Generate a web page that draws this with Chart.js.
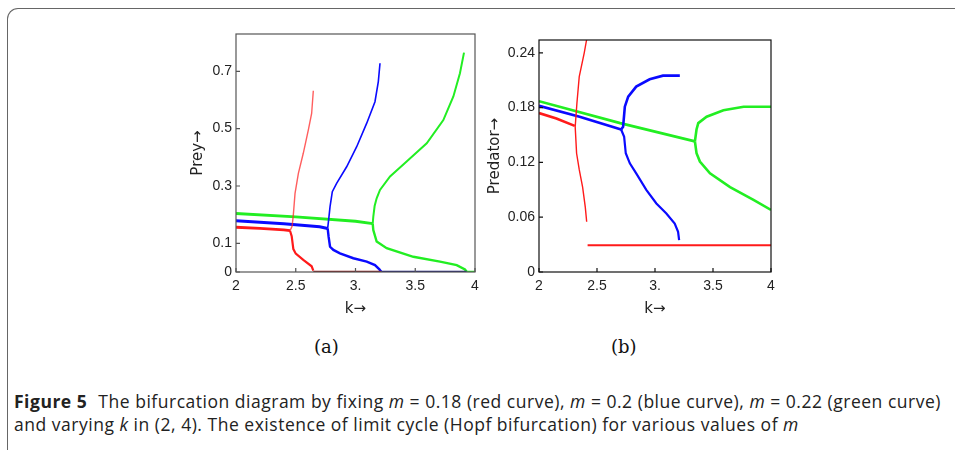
<!DOCTYPE html>
<html>
<head>
<meta charset="utf-8">
<script src="https://cdn.jsdelivr.net/npm/chart.js@4.4.1/dist/chart.umd.min.js"></script>
<style>
  body { margin: 0; background: #fff; width: 955px; height: 450px; overflow: hidden; position: relative; }
  #frame { position: absolute; left: 7px; top: 8px; width: 1000px; height: 500px;
           border-left: 1.5px solid #666; border-top: 1.5px solid #666; border-top-left-radius: 11px; }
  .box { position: absolute; }
  .sub { position: absolute; top: 336px; font-family: "DejaVu Serif", "Liberation Serif", serif; font-size: 18px; color: #111; }
  #caption { position: absolute; left: 14px; top: 390px; font-family: "Open Sans", sans-serif;
             font-size: 17.5px; line-height: 23px; color: #222; white-space: nowrap; }
  #caption b { font-weight: 700; margin-right: 6px; }
</style>
</head>
<body>
<div id="frame"></div>
<div class="box" style="left:180px; top:20px; width:310px; height:300px;"><canvas id="chartA"></canvas></div>
<div class="box" style="left:480px; top:20px; width:310px; height:300px;"><canvas id="chartB"></canvas></div>
<div class="sub" style="left:314px;">(a)</div>
<div class="sub" style="left:611px;">(b)</div>
<div id="caption"><span id="cap1"><b>Figure 5</b> The bifurcation diagram by fixing <i>m</i> = 0.18 (red curve), <i>m</i> = 0.2 (blue curve), <i>m</i> = 0.22 (green curve)</span><br><span id="cap2">and varying <i>k</i> in (2, 4). The existence of limit cycle (Hopf bifurcation) for various values of <i>m</i></span></div>
<script>
// ---- panel (a): prey vs k ----
const xTicks = [2, 2.5, 3, 3.5, 4];
const xTickLabels = ['2', '2.5', '3.', '3.5', '4'];
const preyTicks = [0, 0.1, 0.3, 0.5, 0.7];
const predTicks = [0, 0.06, 0.12, 0.18, 0.24];

const redA_stableK = [2, 2.2, 2.4, 2.452];
const redA_stableY = [0.156, 0.152, 0.147, 0.144];
const redA_upK = [2.452, 2.47, 2.48, 2.494, 2.522, 2.563, 2.605, 2.633, 2.647];
const redA_upY = [0.144, 0.16, 0.2, 0.274, 0.344, 0.414, 0.495, 0.553, 0.632];
const redA_lowK = [2.452, 2.466, 2.48, 2.5, 2.563, 2.633, 2.647];
const redA_lowY = [0.144, 0.125, 0.08, 0.064, 0.042, 0.02, 0.005];

const blueA_stableK = [2, 2.4, 2.7, 2.767];
const blueA_stableY = [0.179, 0.168, 0.158, 0.152];
const blueA_upK = [2.767, 2.775, 2.787, 2.806, 2.842, 2.926, 3.01, 3.094, 3.163, 3.191, 3.205];
const blueA_upY = [0.152, 0.181, 0.228, 0.28, 0.309, 0.367, 0.437, 0.519, 0.594, 0.664, 0.728];
const blueA_lowK = [2.767, 2.775, 2.787, 2.815, 2.87, 2.982, 3.094, 3.163, 3.2, 3.215];
const blueA_lowY = [0.152, 0.123, 0.088, 0.077, 0.065, 0.048, 0.036, 0.024, 0.009, 0.001];

const greenA_stableK = [2, 2.5, 3, 3.144];
const greenA_stableY = [0.204, 0.192, 0.177, 0.169];
const greenA_upK = [3.144, 3.149, 3.16, 3.177, 3.205, 3.289, 3.428, 3.596, 3.735, 3.819, 3.874, 3.908];
const greenA_upY = [0.169, 0.193, 0.23, 0.257, 0.286, 0.333, 0.385, 0.449, 0.53, 0.612, 0.693, 0.765];
const greenA_lowK = [3.144, 3.149, 3.177, 3.261, 3.484, 3.707, 3.847, 3.916, 3.93];
const greenA_lowY = [0.169, 0.146, 0.106, 0.083, 0.053, 0.036, 0.024, 0.009, 0.001];

const zeroRedK = [2.647, 3.215];
const zeroBlueK = [3.215, 3.93];
const zeroGreenK = [3.93, 4];

// ---- panel (b): predator vs k ----
const redB_stableK = [2, 2.15, 2.308];
const redB_stableY = [0.174, 0.168, 0.16];
const redB_cycK = [2.41, 2.39, 2.347, 2.327, 2.312, 2.324, 2.347, 2.376, 2.399, 2.411];
const redB_cycY = [0.254, 0.24, 0.214, 0.185, 0.159, 0.13, 0.112, 0.093, 0.071, 0.055];
const redB_lowK = [2.419, 4];
const redB_lowY = [0.0293, 0.0293];

const blueB_stableK = [2, 2.35, 2.708];
const blueB_stableY = [0.182, 0.17, 0.156];
const blueB_upK = [2.708, 2.725, 2.74, 2.769, 2.838, 2.954, 3.069, 3.214];
const blueB_upY = [0.156, 0.159, 0.181, 0.192, 0.203, 0.211, 0.215, 0.215];
const blueB_lowK = [2.708, 2.734, 2.748, 2.783, 2.838, 2.925, 3.012, 3.098, 3.17, 3.199, 3.208];
const blueB_lowY = [0.156, 0.148, 0.13, 0.119, 0.108, 0.09, 0.075, 0.064, 0.053, 0.044, 0.035];

const greenB_stableK = [2, 2.7, 3.344];
const greenB_stableY = [0.187, 0.163, 0.143];
const greenB_upK = [3.344, 3.358, 3.373, 3.445, 3.59, 3.764, 4];
const greenB_upY = [0.143, 0.156, 0.163, 0.17, 0.177, 0.181, 0.181];
const greenB_lowK = [3.344, 3.358, 3.387, 3.474, 3.647, 3.849, 4];
const greenB_lowY = [0.143, 0.13, 0.121, 0.108, 0.093, 0.079, 0.068];

const RED = '#ff1a1a', BLUE = '#0a0aff', GREEN = '#22ee22';
const FONT = "'Liberation Sans', Arial, sans-serif";
const TITLE_FONT = "'DejaVu Sans', 'Liberation Sans', sans-serif";

function pts(ks, ys) {
  return ks.map((k, i) => ({ x: k, y: Array.isArray(ys) ? ys[i] : ys }));
}
function series(ks, ys, color, width) {
  return { data: pts(ks, ys), borderColor: color, borderWidth: width, showLine: true,
           pointRadius: 0, tension: 0, fill: false };
}

const frameTicks = {
  id: 'frameTicks',
  afterDatasetsDraw(chart, args, opts) {
    const { ctx, chartArea: a, scales } = chart;
    ctx.save();
    ctx.strokeStyle = opts.color;
    ctx.lineWidth = 1.2;
    ctx.strokeRect(a.left, a.top, a.right - a.left, a.bottom - a.top);
    ctx.beginPath();
    scales.x.ticks.forEach(t => {
      const px = scales.x.getPixelForValue(t.value);
      ctx.moveTo(px, a.bottom); ctx.lineTo(px, a.bottom - 4);
    });
    scales.y.ticks.forEach(t => {
      const py = scales.y.getPixelForValue(t.value);
      ctx.moveTo(a.left, py); ctx.lineTo(a.left + 4, py);
    });
    ctx.stroke();
    ctx.restore();
  }
};

function makeChart(id, datasets, yMax, yTicks, yTitle, yWidth, titlePad, pad, frameColor) {
  return new Chart(document.getElementById(id), {
    type: 'scatter',
    data: { datasets: datasets },
    options: {
      animation: false,
      responsive: true,
      maintainAspectRatio: false,
      layout: { padding: pad },
      plugins: { legend: { display: false }, tooltip: { enabled: false }, frameTicks: { color: frameColor } },
      scales: {
        x: {
          type: 'linear', min: 2, max: 4,
          afterBuildTicks: s => { s.ticks = xTicks.map(v => ({ value: v })); },
          afterFit: s => { s.height = 48; },
          grid: { display: false, drawTicks: false },
          border: { display: false },
          ticks: { padding: 6, color: '#222', font: { family: FONT, size: 14 },
                   callback: v => xTickLabels[xTicks.indexOf(v)] },
          title: { display: true, text: 'k\u2192', color: '#222', padding: { top: 0, bottom: 2 },
                   font: { family: TITLE_FONT, size: 15 } }
        },
        y: {
          type: 'linear', min: 0, max: yMax,
          afterBuildTicks: s => { s.ticks = yTicks.map(v => ({ value: v })); },
          afterFit: s => { s.width = yWidth; },
          grid: { display: false, drawTicks: false },
          border: { display: false },
          ticks: { padding: 4, color: '#222', font: { family: FONT, size: 14 },
                   callback: v => String(v) },
          title: { display: true, text: yTitle, color: '#222', padding: { top: titlePad, bottom: 0 },
                   font: { family: TITLE_FONT, size: 15 } }
        }
      }
    },
    plugins: [frameTicks]
  });
}

makeChart('chartA', [
  series(zeroRedK, 0, '#8a1a1a', 2.5),
  series(zeroBlueK, 0, '#1a1a7a', 2.5),
  series(zeroGreenK, 0, GREEN, 2.5),
  series(redA_upK, redA_upY, 'rgba(255,40,40,0.75)', 1.4),
  series(redA_lowK, redA_lowY, RED, 2.2),
  series(redA_stableK, redA_stableY, RED, 2.8),
  series(blueA_upK, blueA_upY, BLUE, 1.6),
  series(blueA_lowK, blueA_lowY, BLUE, 2.4),
  series(blueA_stableK, blueA_stableY, BLUE, 3),
  series(greenA_upK, greenA_upY, GREEN, 2),
  series(greenA_lowK, greenA_lowY, GREEN, 2.4),
  series(greenA_stableK, greenA_stableY, GREEN, 2.8)
], 0.83, preyTicks, 'Prey\u2192', 56, 9, { top: 14, right: 15, left: 0, bottom: 0 }, '#555');

makeChart('chartB', [
  series(redB_lowK, redB_lowY, RED, 1.8),
  series(redB_cycK, redB_cycY, RED, 1.4),
  series(redB_stableK, redB_stableY, RED, 2.6),
  series(blueB_upK, blueB_upY, BLUE, 2.6),
  series(blueB_lowK, blueB_lowY, BLUE, 2.2),
  series(blueB_stableK, blueB_stableY, BLUE, 2.8),
  series(greenB_upK, greenB_upY, GREEN, 2.6),
  series(greenB_lowK, greenB_lowY, GREEN, 2.6),
  series(greenB_stableK, greenB_stableY, GREEN, 2.6)
], 0.254, predTicks, 'Predator\u2192', 59, 6, { top: 20, right: 19, left: 0, bottom: 0 }, '#111');

// stretch the first caption line to the reference's width
const cap1 = document.getElementById('cap1');
const cap2 = document.getElementById('cap2');
const w1 = cap1.getBoundingClientRect().width;
const ls = (927 - w1) / cap1.textContent.length;
cap1.style.letterSpacing = ls + 'px';
cap2.style.letterSpacing = ls + 'px';
</script>
</body>
</html>
